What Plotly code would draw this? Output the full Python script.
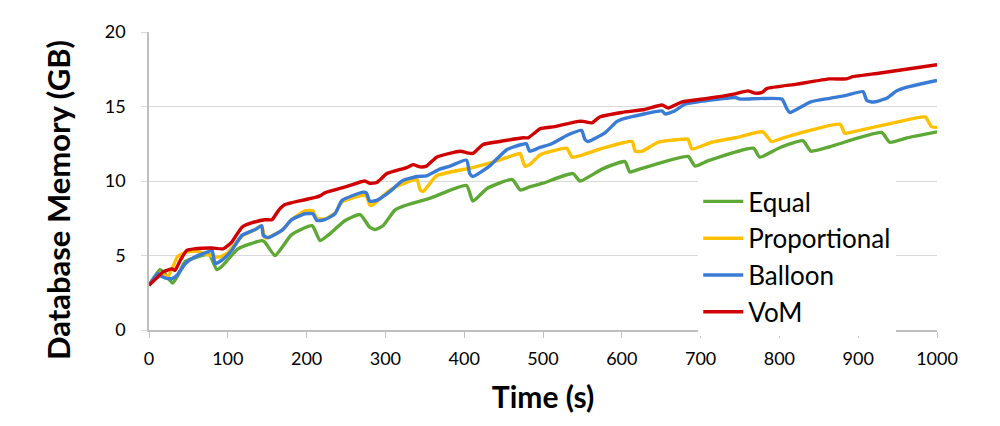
import plotly.graph_objects as go

# ---- data ----
equal_t = [0, 14, 20, 30, 37, 46, 71, 77, 86, 93, 113, 143, 147, 160, 181, 207, 217, 227, 249, 268,
           280, 287, 297, 312, 322, 357, 403, 411, 429, 461, 471, 483, 500, 538, 547, 575, 604, 610, 617,
           684, 693, 709, 767, 775, 801, 830, 840, 864, 930, 940, 962, 1000]
equal_mem = [3.0, 4.05, 3.8, 3.15, 3.7, 4.6, 5.05, 5.05, 4.05, 4.3, 5.45, 6.0, 5.9, 5.0, 6.4, 7.0, 6.0, 6.35, 7.35, 7.75,
             6.9, 6.75, 7.0, 8.05, 8.3, 8.85, 9.7, 8.65, 9.5, 10.1, 9.4, 9.6, 9.85, 10.5, 10.0, 10.8, 11.3, 10.6, 10.7,
             11.65, 11.0, 11.35, 12.2, 11.6, 12.25, 12.7, 12.0, 12.3, 13.25, 12.6, 12.9, 13.3]

prop_t = [0, 12, 24, 30, 36, 45, 60, 72, 80, 90, 100, 118, 135, 143, 147, 151, 169, 181, 198, 208, 213, 223,
          236, 245, 272, 276, 280, 284, 306, 322, 340, 344, 348, 365, 411, 441, 467, 471, 477, 483, 496, 511,
          530, 537, 553, 579, 613, 617, 626, 646, 676, 684, 689, 714, 744, 779, 790, 805, 877, 883, 893, 949,
          985, 993, 1000]
prop_mem = [3.0, 3.8, 3.6, 4.2, 4.9, 5.2, 5.3, 5.1, 4.95, 4.9, 5.2, 6.3, 6.75, 7.0, 6.2, 6.2, 6.7, 7.4, 8.0, 8.0, 7.5, 7.45,
            7.85, 8.6, 9.05, 9.0, 8.4, 8.4, 9.4, 9.8, 10.1, 9.4, 9.3, 10.35, 10.9, 11.35, 11.8, 11.85, 11.0, 11.1, 11.75, 12.0,
            12.2, 11.6, 11.8, 12.25, 12.65, 12.0, 12.0, 12.6, 12.8, 12.8, 12.15, 12.6, 12.9, 13.3, 12.65, 12.9, 13.8, 13.2, 13.3, 13.95,
            14.3, 13.65, 13.6]

balloon_t = [0, 11, 16, 20, 29, 36, 46, 58, 75, 80, 84, 93, 105, 118, 135, 143, 145, 151, 169, 181, 198, 208, 213,
             223, 236, 245, 272, 276, 280, 289, 306, 321, 340, 352, 369, 382, 403, 407, 411, 432, 454, 473, 479, 483,
             496, 511, 532, 549, 553, 557, 579, 594, 604, 651, 655, 667, 680, 744, 750, 803, 809, 813, 839, 864, 885,
             906, 911, 919, 936, 949, 962, 1000]
balloon_mem = [3.0, 3.8, 3.6, 3.5, 3.45, 3.7, 4.45, 4.9, 5.25, 5.35, 4.45, 4.7, 5.35, 6.35, 6.75, 7.0, 6.35, 6.2, 6.7, 7.4, 7.8, 7.8, 7.35,
               7.4, 7.8, 8.7, 9.25, 9.2, 8.65, 8.7, 9.3, 10.0, 10.3, 10.35, 10.8, 11.0, 11.4, 10.5, 10.3, 11.0, 12.1, 12.45, 12.5, 12.0,
               12.25, 12.5, 13.1, 13.4, 12.8, 12.65, 13.25, 14.0, 14.2, 14.7, 14.5, 14.7, 15.15, 15.6, 15.5, 15.5, 14.9, 14.6, 15.3, 15.55, 15.75,
               16.0, 15.4, 15.3, 15.55, 16.05, 16.3, 16.75]

vom_t = [0, 10, 18, 29, 33, 40, 48, 58, 80, 94, 105, 118, 131, 147, 156, 164, 172, 194, 211, 217, 223, 249, 274, 280,
         289, 302, 327, 335, 344, 352, 365, 395, 403, 411, 424, 445, 475, 481, 490, 496, 515, 545, 551, 562, 572, 600,
         629, 651, 659, 676, 710, 744, 760, 769, 778, 784, 822, 864, 885, 893, 928, 1000]
vom_mem = [3.0, 3.5, 3.9, 4.1, 4.0, 4.7, 5.35, 5.45, 5.5, 5.45, 5.9, 6.9, 7.2, 7.4, 7.4, 8.0, 8.4, 8.7, 8.9, 9.0, 9.2, 9.6, 10.0, 9.85,
           9.9, 10.5, 10.9, 11.1, 10.95, 11.0, 11.6, 12.0, 11.9, 11.85, 12.45, 12.65, 12.9, 12.9, 13.25, 13.5, 13.65, 14.0, 14.0, 13.9, 14.3, 14.6,
           14.8, 15.1, 14.9, 15.3, 15.55, 15.85, 16.05, 15.9, 15.95, 16.2, 16.5, 16.85, 16.85, 17.0, 17.25, 17.8]

series_names = ["Equal", "Proportional", "Balloon", "VoM"]
x_ticks = [0, 100, 200, 300, 400, 500, 600, 700, 800, 900, 1000]
y_ticks = [0, 5, 10, 15, 20]

series = [
    (series_names[0], equal_t, equal_mem, "#5EA836"),
    (series_names[1], prop_t, prop_mem, "#FFC000"),
    (series_names[2], balloon_t, balloon_mem, "#3A7BD5"),
    (series_names[3], vom_t, vom_mem, "#D00000"),
]

fig = go.Figure()
for name, t, m, c in series:
    fig.add_trace(go.Scatter(x=t, y=m, name=name, mode="lines",
                             line=dict(color=c, width=3.4, shape="spline", smoothing=0.5)))

fig.update_layout(
    width=1000, height=426,
    margin=dict(l=141, r=71, t=17, b=104),
    paper_bgcolor="white", plot_bgcolor="white",
    font=dict(family="Lato", color="#000000"),
    showlegend=True,
    legend=dict(x=0.697, y=0.51, xanchor="left", yanchor="top",
                bgcolor="white", borderwidth=0,
                font=dict(family="Lato", size=26, color="#000000"),
                itemwidth=40, traceorder="normal"),
    annotations=[dict(text="<b>Database Memory (GB)</b>", textangle=-90,
                      xref="paper", yref="paper", x=-0.1155, y=0.436,
                      xanchor="center", yanchor="middle", showarrow=False,
                      font=dict(family="Lato", size=31, color="#000000"))],
)
fig.update_xaxes(range=[0, 1000], tickvals=x_ticks, ticks="outside", ticklen=6,
                 tickcolor="#BFBFBF", showline=True, linecolor="#BFBFBF", linewidth=1.5,
                 showgrid=False, zeroline=False, ticklabelstandoff=6,
                 tickfont=dict(family="Lato", size=18, color="#000000"),
                 title=dict(text="<b>Time (s)</b>", font=dict(family="Lato", size=30, color="#000000"), standoff=19))
fig.update_yaxes(range=[0, 20], tickvals=y_ticks, ticks="outside", ticklen=6,
                 tickcolor="#D9D9D9", showline=True, linecolor="#BFBFBF", linewidth=1.5,
                 showgrid=True, gridcolor="#D9D9D9", gridwidth=1.2, zeroline=False, ticklabelstandoff=12,
                 tickfont=dict(family="Lato", size=18, color="#000000"))

fig.write_html("out.html")
